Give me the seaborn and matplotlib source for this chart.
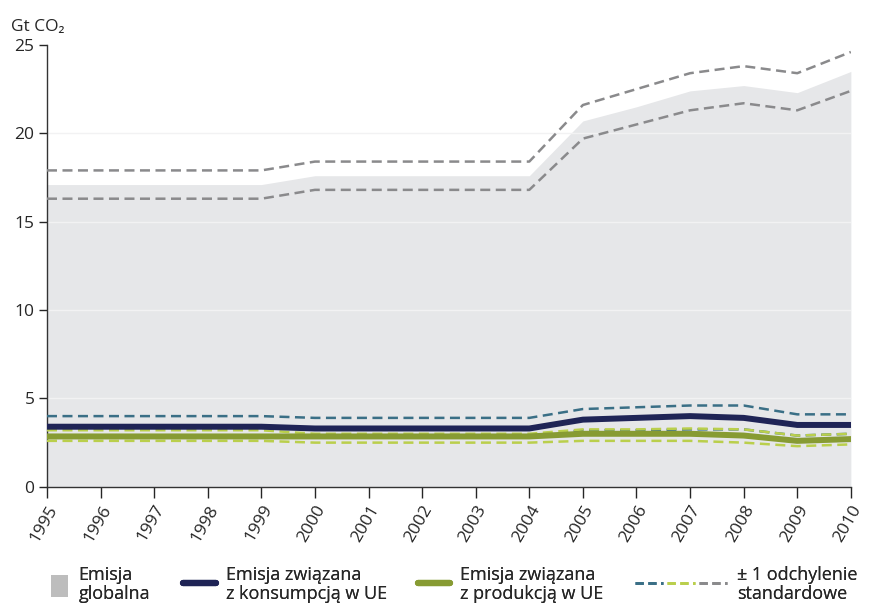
import numpy as np
import pandas as pd
import matplotlib
matplotlib.use('Agg')
import matplotlib.pyplot as plt
import seaborn as sns
from matplotlib.patches import Patch
from matplotlib.lines import Line2D
from matplotlib.legend_handler import HandlerTuple

# Data
years = list(range(1995, 2011))
global_emis = [17.1, 17.1, 17.1, 17.1, 17.1, 17.6, 17.6, 17.6, 17.6, 17.6,
               20.7, 21.5, 22.4, 22.7, 22.3, 23.5]
global_hi = [17.9, 17.9, 17.9, 17.9, 17.9, 18.4, 18.4, 18.4, 18.4, 18.4,
             21.6, 22.5, 23.4, 23.8, 23.4, 24.6]
global_lo = [16.3, 16.3, 16.3, 16.3, 16.3, 16.8, 16.8, 16.8, 16.8, 16.8,
             19.7, 20.5, 21.3, 21.7, 21.3, 22.4]
cons = [3.4, 3.4, 3.4, 3.4, 3.4, 3.3, 3.3, 3.3, 3.3, 3.3,
        3.8, 3.9, 4.0, 3.9, 3.5, 3.5]
cons_hi = [4.0, 4.0, 4.0, 4.0, 4.0, 3.9, 3.9, 3.9, 3.9, 3.9,
           4.4, 4.5, 4.6, 4.6, 4.1, 4.1]
cons_lo = [2.8, 2.8, 2.8, 2.8, 2.8, 2.8, 2.8, 2.8, 2.8, 2.8,
           3.2, 3.2, 3.25, 3.25, 2.9, 3.0]
prod = [2.85, 2.85, 2.85, 2.85, 2.85, 2.85, 2.85, 2.85, 2.85, 2.85,
        3.0, 3.0, 3.0, 2.9, 2.6, 2.7]
prod_hi = [3.2, 3.2, 3.2, 3.2, 3.2, 3.0, 3.0, 3.0, 3.0, 3.0,
           3.25, 3.25, 3.3, 3.25, 2.9, 3.0]
prod_lo = [2.6, 2.6, 2.6, 2.6, 2.6, 2.5, 2.5, 2.5, 2.5, 2.5,
           2.6, 2.6, 2.6, 2.5, 2.3, 2.4]

df = pd.DataFrame({'year': years, 'global': global_emis, 'global_hi': global_hi,
                   'global_lo': global_lo, 'cons': cons, 'cons_hi': cons_hi,
                   'cons_lo': cons_lo, 'prod': prod, 'prod_hi': prod_hi,
                   'prod_lo': prod_lo})

sns.set_style('white')
plt.rcParams['font.family'] = ['Open Sans', 'DejaVu Sans']

c_fill = '#e6e7e9'
c_gray = '#8a8a8c'
c_navy = '#1f2456'
c_green = '#879b33'
c_lgreen = '#bacf4c'
c_teal = '#3a6f86'

fig = plt.figure(figsize=(8.7, 6.07), dpi=100)
ax = fig.add_axes([0.054, 0.198, 0.924, 0.728])

ax.fill_between(df['year'], 0, df['global'], color=c_fill, lw=0, zorder=1)
for yv in [5, 10, 15, 20]:
    ax.axhline(yv, color='#f2f2f3', lw=1, zorder=1.5)

dash = (4, 2.2)
dlw = 1.8
for col, c in [('global_hi', c_gray), ('global_lo', c_gray), ('cons_hi', c_teal),
               ('cons_lo', c_teal), ('prod_hi', c_lgreen), ('prod_lo', c_lgreen)]:
    sns.lineplot(data=df, x='year', y=col, ax=ax, color=c, lw=dlw, zorder=3)
    ax.lines[-1].set_dashes(dash)
sns.lineplot(data=df, x='year', y='cons', ax=ax, color=c_navy, lw=4.3, zorder=4)
sns.lineplot(data=df, x='year', y='prod', ax=ax, color=c_green, lw=4.3, zorder=4)

ax.set_xlim(1995, 2010)
ax.set_ylim(0, 25)
ax.set_xticks(years)
ax.set_xticklabels([str(y) for y in years], rotation=60, ha='right', rotation_mode='anchor', fontsize=12.5)
ax.set_yticks([0, 5, 10, 15, 20, 25])
ax.tick_params(axis='y', labelsize=12.5, length=6, width=1, direction='out', left=True, pad=3)
ax.tick_params(axis='x', length=8, width=1, direction='out', bottom=True, pad=3)
ax.set_xlabel('')
ax.set_ylabel('')
for s in ['top', 'right']:
    ax.spines[s].set_visible(False)
for s in ['left', 'bottom']:
    ax.spines[s].set_color('#333333')
    ax.spines[s].set_linewidth(1)

fig.text(0.013, 0.955, 'Gt CO₂', fontsize=12.5, ha='left', va='center')

# Legend: one small legend per entry so each handle has its own length
entries = [
    (Patch(facecolor='#bdbdbd', edgecolor='none'), 'Emisja\nglobalna', 0.059, 0.95),
    (Line2D([], [], color=c_navy, lw=4.5, solid_capstyle='round'),
     'Emisja związana\nz konsumpcją w UE', 0.210, 1.85),
    (Line2D([], [], color=c_green, lw=4.5, solid_capstyle='round'),
     'Emisja związana\nz produkcją w UE', 0.481, 1.75),
    ((Line2D([], [], color=c_teal, lw=2, dashes=(3, 1.6)),
      Line2D([], [], color=c_lgreen, lw=2, dashes=(3, 1.6)),
      Line2D([], [], color=c_gray, lw=2, dashes=(3, 1.6))),
     '± 1 odchylenie\nstandardowe', 0.730, 5.1),
]
for h, lab, x0, hl in entries:
    leg = fig.legend([h], [lab], loc='center left', bbox_to_anchor=(x0, 0.037),
                     frameon=False, fontsize=13, handlelength=hl,
                     handleheight=1.5, handletextpad=0.55, borderpad=0,
                     borderaxespad=0,
                     handler_map={tuple: HandlerTuple(ndivide=None, pad=0.25)})
    for t in leg.get_texts():
        t.set_linespacing(1.12)
    fig.add_artist(leg)

fig.savefig('out.png', dpi=100)
